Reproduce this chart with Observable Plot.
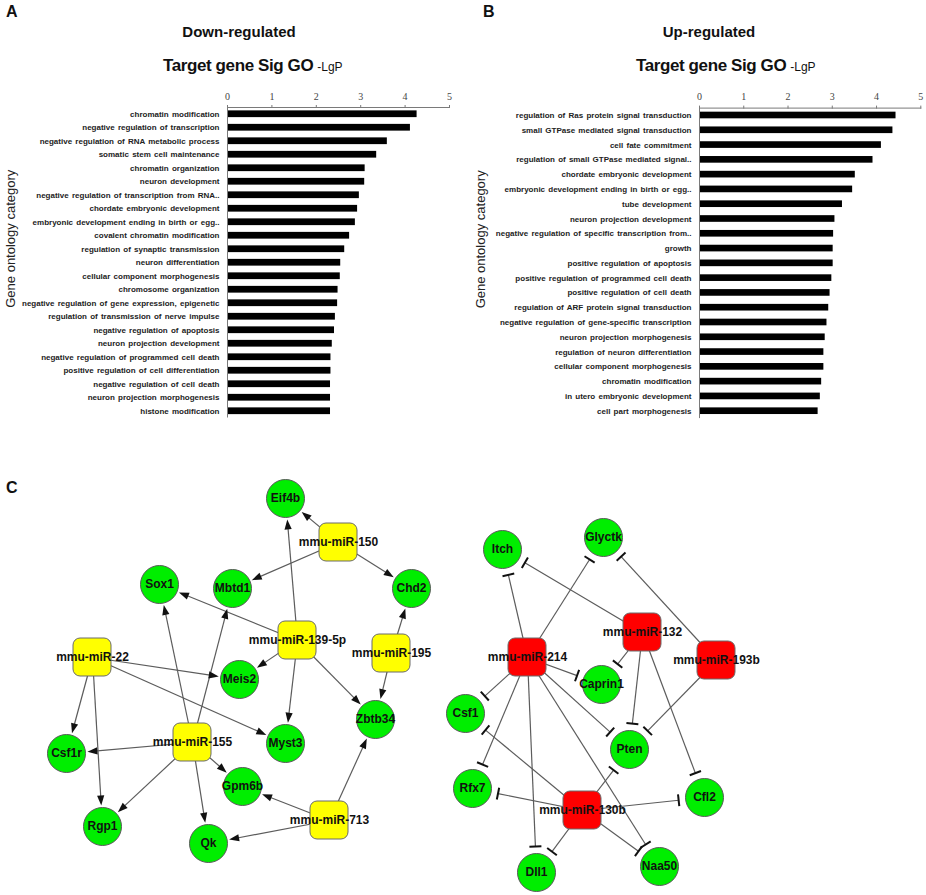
<!DOCTYPE html>
<html><head><meta charset="utf-8">
<script src="https://cdn.jsdelivr.net/npm/d3@7"></script>
<script src="https://cdn.jsdelivr.net/npm/@observablehq/plot@0.6"></script>
<style>
body{margin:0;background:#fff;font-family:Arial,"Liberation Sans",sans-serif;}
#fig{position:relative;width:926px;height:895px;overflow:hidden;background:#fff;}
.abs{position:absolute;white-space:nowrap;color:#111;}
.plabel{font-weight:bold;font-size:16px;line-height:1;}
.t1{font-weight:bold;font-size:15px;line-height:1;text-align:center;width:200px;}
.t2{font-weight:bold;font-size:17px;line-height:1;letter-spacing:-0.4px;}
.t2 span{font-weight:normal;font-size:12px;letter-spacing:0;margin-left:4px;}
g[aria-label="y-axis tick label"]{word-spacing:1px;}
</style></head><body><div id="fig"></div>
<script>
// ---------- Data ----------
const xTicks = [0, 1, 2, 3, 4, 5];
const downTerms = ["chromatin modification","negative regulation of transcription","negative regulation of RNA metabolic process","somatic stem cell maintenance","chromatin organization","neuron development","negative regulation of transcription from RNA..","chordate embryonic development","embryonic development ending in birth or egg..","covalent chromatin modification","regulation of synaptic transmission","neuron differentiation","cellular component morphogenesis","chromosome organization","negative regulation of gene expression, epigenetic","regulation of transmission of nerve impulse","negative regulation of apoptosis","neuron projection development","negative regulation of programmed cell death","positive regulation of cell differentiation","negative regulation of cell death","neuron projection morphogenesis","histone modification"];
const downValues = [4.27,4.12,3.60,3.36,3.10,3.09,2.97,2.93,2.88,2.75,2.64,2.55,2.54,2.49,2.48,2.43,2.41,2.36,2.33,2.33,2.32,2.32,2.32];
const upTerms = ["regulation of Ras protein signal transduction","small GTPase mediated signal transduction","cell fate commitment","regulation of small GTPase mediated signal..","chordate embryonic development","embryonic development ending in birth or egg..","tube development","neuron projection development","negative regulation of specific transcription from..","growth","positive regulation of apoptosis","positive regulation of programmed cell death","positive regulation of cell death","regulation of ARF protein signal transduction","negative regulation of gene-specific transcription","neuron projection morphogenesis","regulation of neuron differentiation","cellular component morphogenesis","chromatin modification","in utero embryonic development","cell part morphogenesis"];
const upValues = [4.44,4.37,4.11,3.92,3.52,3.46,3.23,3.06,3.03,3.02,3.02,2.99,2.95,2.92,2.88,2.84,2.81,2.81,2.76,2.73,2.68];

// network layout (layout units)
const nodeNames = ["Eif4b","mmu-miR-150","Sox1","Mbtd1","Chd2","mmu-miR-139-5p","mmu-miR-195","mmu-miR-22","Meis2","Zbtb34","Csf1r","mmu-miR-155","Myst3","Gpm6b","mmu-miR-713","Rgp1","Qk",
  "Itch","Glyctk","mmu-miR-132","mmu-miR-214","mmu-miR-193b","Caprin1","Csf1","Pten","Rfx7","mmu-miR-130b","Cfl2","Dll1","Naa50"];
const nodeX = [285,338,159,232,411,297,391,92,239,375,66,192,285,242,329,102,208,
  502,603,642,527,716,601,465,629,472,582,704,536,659];
const nodeY = [498,542,584,588,588,640,653,657,679,719,753,742,743,786,820,826,843,
  549,537,632,657,660,684,713,749,788,810,797,872,866];
const nodeKind = ["gene","mirUp","gene","gene","gene","mirUp","mirUp","mirUp","gene","gene","gene","mirUp","gene","gene","mirUp","gene","gene",
  "gene","gene","mirDown","mirDown","mirDown","gene","gene","gene","gene","mirDown","gene","gene","gene"];
const arrowFrom = ["mmu-miR-150","mmu-miR-150","mmu-miR-150","mmu-miR-139-5p","mmu-miR-139-5p","mmu-miR-139-5p","mmu-miR-139-5p","mmu-miR-139-5p","mmu-miR-195","mmu-miR-195","mmu-miR-22","mmu-miR-22","mmu-miR-22","mmu-miR-22","mmu-miR-155","mmu-miR-155","mmu-miR-155","mmu-miR-155","mmu-miR-155","mmu-miR-155","mmu-miR-713","mmu-miR-713","mmu-miR-713"];
const arrowTo = ["Eif4b","Mbtd1","Chd2","Eif4b","Sox1","Meis2","Myst3","Zbtb34","Chd2","Zbtb34","Meis2","Myst3","Csf1r","Rgp1","Sox1","Mbtd1","Csf1r","Rgp1","Qk","Gpm6b","Gpm6b","Qk","Zbtb34"];
const inhibitFrom = ["mmu-miR-214","mmu-miR-214","mmu-miR-214","mmu-miR-214","mmu-miR-214","mmu-miR-214","mmu-miR-214","mmu-miR-214","mmu-miR-132","mmu-miR-132","mmu-miR-132","mmu-miR-132","mmu-miR-193b","mmu-miR-193b","mmu-miR-130b","mmu-miR-130b","mmu-miR-130b","mmu-miR-130b","mmu-miR-130b","mmu-miR-130b"];
const inhibitTo = ["Itch","Glyctk","Caprin1","Csf1","Rfx7","Dll1","Pten","Naa50","Itch","Caprin1","Pten","Cfl2","Glyctk","Pten","Csf1","Rfx7","Pten","Cfl2","Dll1","Naa50"];

// ---------- Layout helpers ----------
const fig = document.getElementById("fig");
function addDiv(cls, html, left, top) {
  const d = document.createElement("div");
  d.className = "abs " + cls; d.innerHTML = html;
  d.style.left = left + "px"; d.style.top = top + "px";
  fig.appendChild(d); return d;
}
addDiv("plabel", "A", 6, 4);
addDiv("plabel", "B", 483, 4);
addDiv("plabel", "C", 6, 480);
addDiv("t1", "Down-regulated", 139, 24);
addDiv("t1", "Up-regulated", 609, 24);
addDiv("t2", "Target gene Sig GO<span>-LgP</span>", 163, 57);
addDiv("t2", "Target gene Sig GO<span>-LgP</span>", 636, 57);

function barChart(terms, values, o) {
  const data = terms.map((t, i) => ({term: t, value: values[i]}));
  const p = Plot.plot({
    width: 463, height: 350,
    marginLeft: o.ml, marginRight: o.mr, marginTop: o.mt, marginBottom: o.mb,
    style: {fontFamily: "Arial, 'Liberation Sans', sans-serif", background: "transparent", overflow: "visible"},
    x: {domain: [0, 5]},
    y: {domain: terms, paddingInner: o.pad, paddingOuter: o.pad / 2, round: false},
    marks: [
      Plot.barX(data, {x: "value", y: "term", fill: "black"}),
      Plot.ruleX([0], {stroke: "#7a7a7a", strokeWidth: 1}),
      Plot.frame({anchor: "top", stroke: "#7a7a7a"}),
      Plot.axisX({anchor: "top", ticks: xTicks, tickSize: 3, tickPadding: 5, tickFormat: d => String(d), stroke: "#7a7a7a", fill: "#444", fontSize: 10, fontFamily: "'Liberation Serif', 'DejaVu Serif', serif", label: null}),
      Plot.axisY({tickSize: 0, tickPadding: 8, fontSize: 8, fontWeight: "bold", fill: "#222", label: null}),
      Plot.text(["Gene ontology category"], {text: d => d, frameAnchor: "left", textAnchor: "middle", dx: o.ldx, dy: o.ldy, rotate: -90, fontSize: 13, fill: "#222"})
    ]
  });
  p.style.position = "absolute"; p.style.left = o.left + "px"; p.style.top = "80px";
  fig.appendChild(p);
}
barChart(downTerms, downValues, {left: 0, ml: 227, mr: 14, mt: 27, mb: 12.5, pad: 0.5, ldx: -217, ldy: -24});
barChart(upTerms, upValues, {left: 463, ml: 236, mr: 5.7, mt: 27.6, mb: 11.9, pad: 0.55, ldx: -219, ldy: -24});

// ---------- Network ----------
const pos = new Map(nodeNames.map((n, i) => [n, {name: n, x: nodeX[i], y: nodeY[i], kind: nodeKind[i]}]));
const R = 19, HALF = 19;
const arrowLines = [], heads = [], inhibitLines = [], bars = [];
arrowFrom.forEach((a, i) => {
  const s = pos.get(a), t = pos.get(arrowTo[i]);
  const dx = t.x - s.x, dy = t.y - s.y, d = Math.hypot(dx, dy);
  const ux = dx / d, uy = dy / d, px = -uy, py = ux;
  const tx = t.x - ux * (R + 2), ty = t.y - uy * (R + 2);
  const bx = tx - ux * 10, by = ty - uy * 10;
  arrowLines.push({x1: s.x, y1: s.y, x2: tx - ux * 7, y2: ty - uy * 7});
  heads.push({id: i, x: tx, y: ty}, {id: i, x: bx + px * 3.6, y: by + py * 3.6}, {id: i, x: bx - px * 3.6, y: by - py * 3.6});
});
inhibitFrom.forEach((a, i) => {
  const s = pos.get(a), t = pos.get(inhibitTo[i]);
  const dx = t.x - s.x, dy = t.y - s.y, d = Math.hypot(dx, dy);
  const ux = dx / d, uy = dy / d, px = -uy, py = ux;
  const cx = t.x - ux * (R + 7), cy = t.y - uy * (R + 7);
  inhibitLines.push({x1: s.x, y1: s.y, x2: cx, y2: cy});
  bars.push({x1: cx + px * 6, y1: cy + py * 6, x2: cx - px * 6, y2: cy - py * 6});
});
const nodes = [...pos.values()];
const genes = nodes.filter(d => d.kind === "gene");
const mirUp = nodes.filter(d => d.kind === "mirUp");
const mirDown = nodes.filter(d => d.kind === "mirDown");

const net = Plot.plot({
  width: 926, height: 435, margin: 0,
  x: {domain: [0, 926], range: [0, 926], axis: null},
  y: {domain: [460, 895], range: [0, 435], axis: null},
  style: {fontFamily: "Arial, 'Liberation Sans', sans-serif", background: "transparent", overflow: "visible"},
  marks: [
    Plot.link(arrowLines, {x1: "x1", y1: "y1", x2: "x2", y2: "y2", stroke: "#5c5c5c", strokeWidth: 1.2}),
    Plot.link(inhibitLines, {x1: "x1", y1: "y1", x2: "x2", y2: "y2", stroke: "#5c5c5c", strokeWidth: 1.2}),
    Plot.dot(genes, {x: "x", y: "y", r: R, fill: "#00ee00", stroke: "#5a5a5a", strokeWidth: 1}),
    Plot.rect(mirUp, {x1: d => d.x - HALF, x2: d => d.x + HALF, y1: d => d.y - HALF, y2: d => d.y + HALF, rx: 7, ry: 7, fill: "#ffff00", stroke: "#6a6a6a", strokeWidth: 1}),
    Plot.rect(mirDown, {x1: d => d.x - HALF, x2: d => d.x + HALF, y1: d => d.y - HALF, y2: d => d.y + HALF, rx: 7, ry: 7, fill: "#ff0000", stroke: "#6a6a6a", strokeWidth: 1}),
    Plot.line(heads, {x: "x", y: "y", z: "id", fill: "#111", stroke: "none", curve: "linear"}),
    Plot.link(bars, {x1: "x1", y1: "y1", x2: "x2", y2: "y2", stroke: "#111", strokeWidth: 2}),
    Plot.text(nodes, {x: "x", y: "y", text: "name", fontWeight: "bold", fontSize: 12, fill: "#111"})
  ]
});
net.style.position = "absolute"; net.style.left = "0px"; net.style.top = "460px";
fig.appendChild(net);
</script></body></html>
